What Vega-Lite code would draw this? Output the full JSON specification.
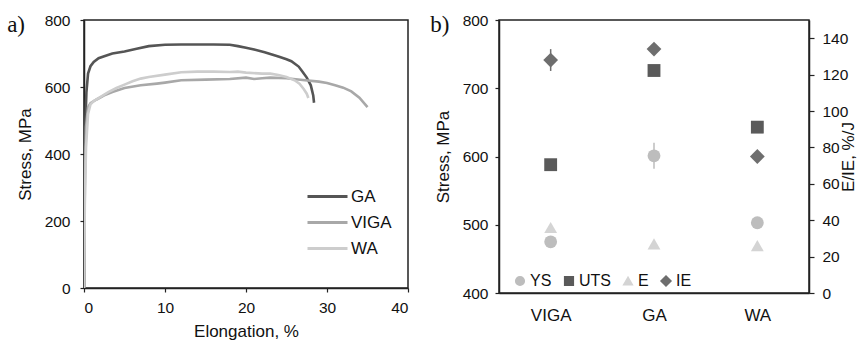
{
  "$schema": "https://vega.github.io/schema/vega-lite/v6.json",
  "padding": {"left": 6, "top": 12, "right": 2, "bottom": 2},
  "config": {
    "font": "Liberation Sans",
    "view": {"stroke": "#222", "strokeWidth": 1.5},
    "axis": {"grid": false, "domainColor": "#222", "domainWidth": 1.5, "tickColor": "#222", "tickWidth": 1.2, "tickSize": 4,
      "labelFont": "Liberation Sans", "labelFontSize": 15.5, "labelColor": "#111",
      "titleFont": "Liberation Sans", "titleFontSize": 17, "titleFontWeight": "normal", "titleColor": "#111"},
    "legend": {"labelFont": "Liberation Sans", "labelFontSize": 16, "labelColor": "#111"},
    "title": {"font": "Liberation Serif", "fontSize": 23, "fontWeight": "normal", "color": "#111", "anchor": "start", "frame": "bounds"}
  },
  "spacing": 19,
  "resolve": {"scale": {"color": "independent", "shape": "independent"}, "legend": {"color": "independent", "shape": "independent"}},
  "hconcat": [
    {
      "width": 324,
      "height": 268,
      "title": {"text": "a)", "dx": -9, "dy": 24, "offset": 0},
      "data": {"values": [
        {"s": "GA", "x": 0, "y": 0}, {"s": "GA", "x": 0.05, "y": 300}, {"s": "GA", "x": 0.15, "y": 480}, {"s": "GA", "x": 0.3, "y": 585},
        {"s": "GA", "x": 0.5, "y": 640}, {"s": "GA", "x": 0.8, "y": 662}, {"s": "GA", "x": 1.2, "y": 675}, {"s": "GA", "x": 1.8, "y": 686},
        {"s": "GA", "x": 2.5, "y": 692}, {"s": "GA", "x": 3.5, "y": 700}, {"s": "GA", "x": 5, "y": 706}, {"s": "GA", "x": 6.5, "y": 714},
        {"s": "GA", "x": 8, "y": 722}, {"s": "GA", "x": 10, "y": 726}, {"s": "GA", "x": 12, "y": 727}, {"s": "GA", "x": 14, "y": 727},
        {"s": "GA", "x": 16, "y": 727}, {"s": "GA", "x": 18, "y": 726}, {"s": "GA", "x": 19, "y": 722}, {"s": "GA", "x": 20, "y": 717},
        {"s": "GA", "x": 21, "y": 712}, {"s": "GA", "x": 22.3, "y": 704}, {"s": "GA", "x": 24, "y": 691}, {"s": "GA", "x": 25, "y": 683},
        {"s": "GA", "x": 25.6, "y": 677}, {"s": "GA", "x": 26.5, "y": 661}, {"s": "GA", "x": 27, "y": 645}, {"s": "GA", "x": 27.5, "y": 628},
        {"s": "GA", "x": 28, "y": 605}, {"s": "GA", "x": 28.3, "y": 575}, {"s": "GA", "x": 28.4, "y": 553},
        {"s": "VIGA", "x": 0, "y": 0}, {"s": "VIGA", "x": 0.1, "y": 300}, {"s": "VIGA", "x": 0.25, "y": 480}, {"s": "VIGA", "x": 0.5, "y": 540},
        {"s": "VIGA", "x": 0.8, "y": 552}, {"s": "VIGA", "x": 1.5, "y": 562}, {"s": "VIGA", "x": 2.5, "y": 575}, {"s": "VIGA", "x": 3.5, "y": 585},
        {"s": "VIGA", "x": 5, "y": 597}, {"s": "VIGA", "x": 7, "y": 605}, {"s": "VIGA", "x": 9, "y": 610}, {"s": "VIGA", "x": 10, "y": 613},
        {"s": "VIGA", "x": 12, "y": 620}, {"s": "VIGA", "x": 15, "y": 622}, {"s": "VIGA", "x": 18, "y": 624}, {"s": "VIGA", "x": 20, "y": 628},
        {"s": "VIGA", "x": 21, "y": 624}, {"s": "VIGA", "x": 22, "y": 626}, {"s": "VIGA", "x": 23, "y": 628}, {"s": "VIGA", "x": 25, "y": 626},
        {"s": "VIGA", "x": 27, "y": 621}, {"s": "VIGA", "x": 29, "y": 616}, {"s": "VIGA", "x": 30, "y": 612}, {"s": "VIGA", "x": 31, "y": 605},
        {"s": "VIGA", "x": 32, "y": 598}, {"s": "VIGA", "x": 33, "y": 587}, {"s": "VIGA", "x": 34, "y": 568}, {"s": "VIGA", "x": 35, "y": 540},
        {"s": "WA", "x": 0, "y": 0}, {"s": "WA", "x": 0.1, "y": 250}, {"s": "WA", "x": 0.25, "y": 420}, {"s": "WA", "x": 0.5, "y": 520},
        {"s": "WA", "x": 0.8, "y": 548}, {"s": "WA", "x": 1.2, "y": 558}, {"s": "WA", "x": 2, "y": 570}, {"s": "WA", "x": 3, "y": 585},
        {"s": "WA", "x": 4, "y": 597}, {"s": "WA", "x": 5, "y": 607}, {"s": "WA", "x": 6, "y": 617}, {"s": "WA", "x": 7, "y": 625},
        {"s": "WA", "x": 8, "y": 630}, {"s": "WA", "x": 10, "y": 637}, {"s": "WA", "x": 12, "y": 644}, {"s": "WA", "x": 14, "y": 646},
        {"s": "WA", "x": 16, "y": 646}, {"s": "WA", "x": 18, "y": 645}, {"s": "WA", "x": 19, "y": 646}, {"s": "WA", "x": 20, "y": 643},
        {"s": "WA", "x": 22, "y": 640}, {"s": "WA", "x": 23, "y": 640}, {"s": "WA", "x": 24, "y": 636}, {"s": "WA", "x": 25, "y": 630},
        {"s": "WA", "x": 26, "y": 620}, {"s": "WA", "x": 26.6, "y": 610}, {"s": "WA", "x": 27.1, "y": 595}, {"s": "WA", "x": 27.5, "y": 580},
        {"s": "WA", "x": 27.7, "y": 567}
      ]},
      "mark": {"type": "line", "strokeWidth": 2.6, "clip": true},
      "encoding": {
        "x": {"field": "x", "type": "quantitative", "scale": {"domain": [0, 40], "nice": false},
          "axis": {"title": "Elongation, %", "values": [0, 10, 20, 30, 40], "labelPadding": 8, "titlePadding": 8}},
        "y": {"field": "y", "type": "quantitative", "scale": {"domain": [0, 800], "nice": false},
          "axis": {"title": "Stress, MPa", "values": [0, 200, 400, 600, 800], "labelPadding": 10, "titlePadding": 10}},
        "color": {"field": "s", "type": "nominal",
          "scale": {"domain": ["GA", "VIGA", "WA"], "range": ["#555555", "#a8a8a8", "#cdcdcd"]},
          "legend": {"title": null, "orient": "none", "direction": "vertical", "legendX": 232, "legendY": 165, "symbolType": "M-2,0H2", "symbolSize": 400,
            "symbolStrokeWidth": 3, "labelOffset": 12, "labelFontSize": 17, "rowPadding": 6}}
      }
    },
    {
      "width": 310,
      "height": 273,
      "title": {"text": "b)", "dx": -4, "dy": 24, "offset": 0},
      "data": {"values": [
        {"cat": "VIGA", "param": "YS", "ax": "S", "value": 475},
        {"cat": "VIGA", "param": "UTS", "ax": "S", "value": 588},
        {"cat": "VIGA", "param": "E", "ax": "R", "value": 36},
        {"cat": "VIGA", "param": "IE", "ax": "R", "value": 128, "lo": 122, "hi": 134},
        {"cat": "GA", "param": "YS", "ax": "S", "value": 601, "lo": 582, "hi": 620},
        {"cat": "GA", "param": "UTS", "ax": "S", "value": 726},
        {"cat": "GA", "param": "E", "ax": "R", "value": 27},
        {"cat": "GA", "param": "IE", "ax": "R", "value": 134},
        {"cat": "WA", "param": "YS", "ax": "S", "value": 503},
        {"cat": "WA", "param": "UTS", "ax": "S", "value": 643},
        {"cat": "WA", "param": "E", "ax": "R", "value": 26},
        {"cat": "WA", "param": "IE", "ax": "R", "value": 75}
      ]},
      "encoding": {
        "x": {"field": "cat", "type": "nominal", "sort": ["VIGA", "GA", "WA"],
          "scale": {"type": "point", "padding": 0.5},
          "axis": {"title": null, "ticks": false, "labelPadding": 14, "labelFontSize": 17, "labelAngle": 0}},
        "color": {"field": "param", "type": "nominal",
          "scale": {"domain": ["YS", "UTS", "E", "IE"], "range": ["#bdbdbd", "#5a5a5a", "#d4d4d4", "#6e6e6e"]},
          "legend": {"title": null, "orient": "none", "direction": "horizontal", "legendX": 13, "legendY": 253,
            "symbolSize": 75, "labelOffset": 2, "columnPadding": 9, "labelFontSize": 16}}
      },
      "layer": [
        {
          "transform": [{"filter": "datum.ax == 'S'"}],
          "layer": [
            {
              "transform": [{"filter": "isValid(datum.lo)"}],
              "mark": {"type": "rule", "strokeWidth": 1.5},
              "encoding": {
                "y": {"field": "lo", "type": "quantitative"},
                "y2": {"field": "hi"}
              }
            },
            {
              "mark": {"type": "point", "filled": true, "opacity": 1, "size": 165},
              "encoding": {
                "y": {"field": "value", "type": "quantitative"},
                "shape": {"field": "param", "type": "nominal",
                  "scale": {"domain": ["YS", "UTS", "E", "IE"], "range": ["circle", "square", "triangle-up", "M0,-1.15L1.15,0L0,1.15L-1.15,0Z"]}}
              }
            }
          ],
          "encoding": {
            "y": {"type": "quantitative", "scale": {"domain": [400, 800], "nice": false},
              "axis": {"title": "Stress, MPa", "values": [400, 500, 600, 700, 800], "labelPadding": 7, "titlePadding": 10}}
          }
        },
        {
          "transform": [{"filter": "datum.ax == 'R'"}],
          "layer": [
            {
              "transform": [{"filter": "isValid(datum.lo)"}],
              "mark": {"type": "rule", "strokeWidth": 1.5},
              "encoding": {
                "y": {"field": "lo", "type": "quantitative"},
                "y2": {"field": "hi"}
              }
            },
            {
              "mark": {"type": "point", "filled": true, "opacity": 1, "size": 165},
              "encoding": {
                "y": {"field": "value", "type": "quantitative"},
                "shape": {"field": "param", "type": "nominal",
                  "scale": {"domain": ["YS", "UTS", "E", "IE"], "range": ["circle", "square", "triangle-up", "M0,-1.15L1.15,0L0,1.15L-1.15,0Z"]}}
              }
            }
          ],
          "encoding": {
            "y": {"type": "quantitative", "scale": {"domain": [0, 150], "nice": false},
              "axis": {"title": "E/IE, %/J", "orient": "right", "values": [0, 20, 40, 60, 80, 100, 120, 140], "tickSize": 5, "labelPadding": 8, "titlePadding": 10, "titleAngle": 270}}
          }
        }
      ],
      "resolve": {"scale": {"y": "independent"}}
    }
  ]
}
